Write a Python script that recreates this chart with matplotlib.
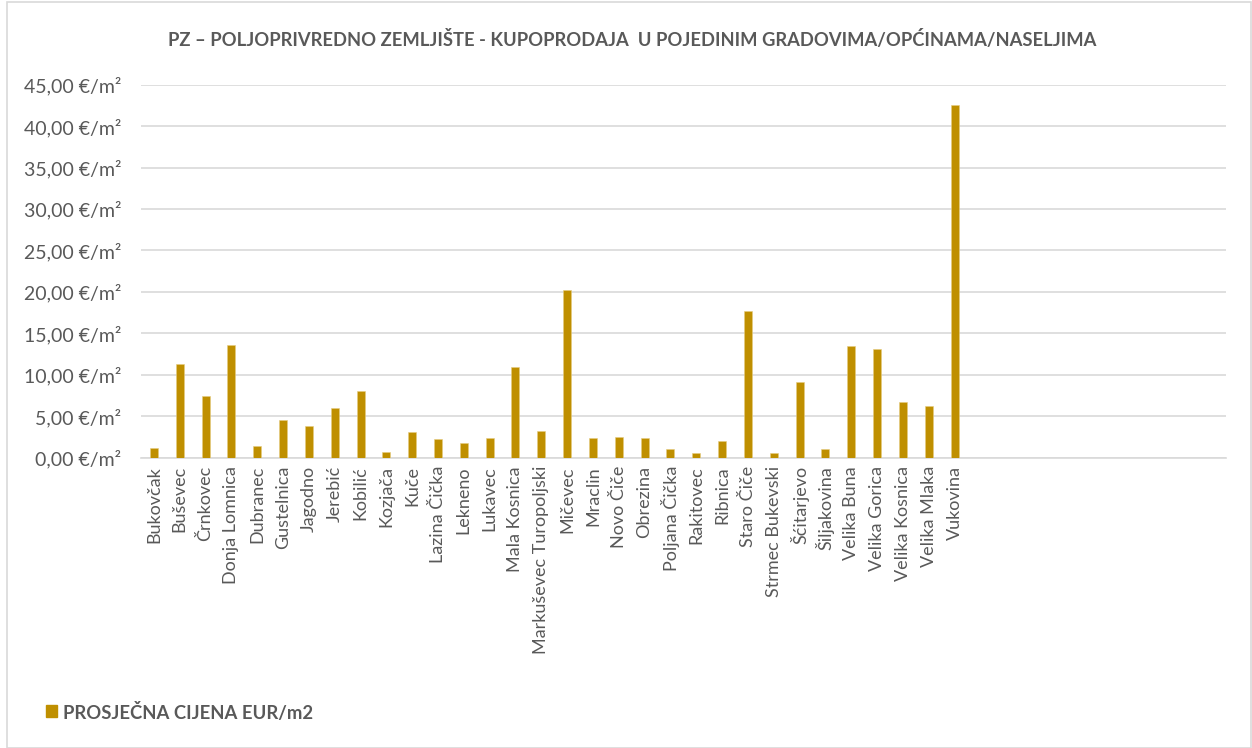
import matplotlib.pyplot as plt
from matplotlib.patches import Rectangle

# data
places = ['Bukovčak', 'Buševec', 'Črnkovec', 'Donja Lomnica', 'Dubranec', 'Gustelnica',
          'Jagodno', 'Jerebić', 'Kobilić', 'Kozjača', 'Kuče', 'Lazina Čička', 'Lekneno',
          'Lukavec', 'Mala Kosnica', 'Markuševec Turopoljski', 'Mičevec', 'Mraclin',
          'Novo Čiče', 'Obrezina', 'Poljana Čička', 'Rakitovec', 'Ribnica', 'Staro Čiče',
          'Strmec Bukevski', 'Šćitarjevo', 'Šiljakovina', 'Velika Buna', 'Velika Gorica',
          'Velika Kosnica', 'Velika Mlaka', 'Vukovina']
prices = [1.20, 11.27, 7.48, 13.56, 1.41, 4.51, 3.79, 5.96, 8.01, 0.69, 3.06, 2.22, 1.77,
          2.41, 10.90, 3.18, 20.23, 2.34, 2.50, 2.34, 1.05, 0.53, 2.01, 17.66, 0.53, 9.17,
          1.01, 13.44, 13.08, 6.72, 6.20, 42.55]
n_slots = 42  # the Excel range has empty rows after Vukovina
yticks = list(range(0, 50, 5))

plt.rcParams['font.family'] = ['Lato', 'DejaVu Sans']
grey = '#595959'
gold = '#BF8F00'

fig = plt.figure(figsize=(12.52, 7.48), dpi=100)
ax = fig.add_axes([0.1126, 0.388, 0.8664, 0.4988])

ax.bar(range(len(places)), prices, width=0.31, color=gold, edgecolor='#E6CC80',
       linewidth=0.4, zorder=3, label='PROSJEČNA CIJENA EUR/m2')
ax.set_xlim(-0.5, n_slots - 0.5)
ax.set_ylim(0, 45)
ax.set_yticks(yticks)
ax.set_yticklabels([f'{v:.2f}'.replace('.', ',') + ' €/m²' for v in yticks],
                   fontsize=14, color=grey)
ax.set_xticks(range(len(places)))
ax.set_xticklabels(places, rotation=90, fontsize=13, color=grey)
ax.tick_params(axis='y', length=0, pad=14)
ax.tick_params(axis='x', length=0, pad=6)
ax.grid(axis='y', color='#D9D9D9', linewidth=1.2, zorder=0)
for s in ['top', 'right', 'left']:
    ax.spines[s].set_visible(False)
ax.spines['bottom'].set_color('#D9D9D9')
ax.spines['bottom'].set_linewidth(1.2)

fig.text(0.505, 0.947, 'PZ – POLJOPRIVREDNO ZEMLJIŠTE - KUPOPRODAJA  U POJEDINIM GRADOVIMA/OPĆINAMA/NASELJIMA',
         ha='center', va='center', fontsize=13.2, fontweight='bold', color=grey)

# legend drawn by hand at bottom left
fig.patches.append(Rectangle((46 / 1252, 1 - 717 / 748), 11 / 1252, 12 / 748,
                             transform=fig.transFigure, color=gold))
fig.text(63 / 1252, 1 - 712 / 748, 'PROSJEČNA CIJENA EUR/m2', ha='left', va='center',
         fontsize=13.3, fontweight='bold', color=grey)

# chart area border
fig.patches.append(Rectangle((7 / 1252, 0), 1 - 8 / 1252, 1 - 2 / 748, transform=fig.transFigure,
                             fill=False, edgecolor='#D9D9D9', linewidth=1.2))

fig.savefig('out.png', dpi=100)
